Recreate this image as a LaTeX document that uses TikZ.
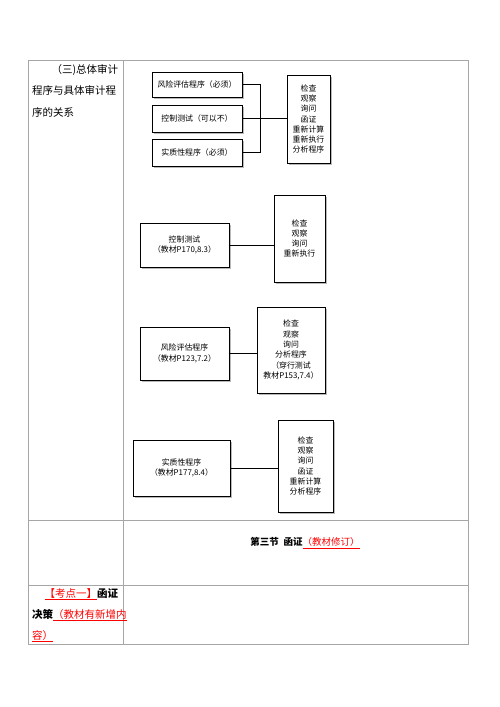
\documentclass[tikz,border=0pt]{standalone}
\usepackage{fontspec}
\setmainfont{Liberation Serif}
\newfontfamily\cjk{Noto Sans CJK SC}
\usepackage{xcolor}
\usetikzlibrary{shadows}

\newcommand{\redline}[1]{{\color{red}\underline{#1}}}

\begin{document}
\begin{tikzpicture}[x=1pt,y=-1pt,
rule/.style={draw=gray!70,line width=0.9pt},
box/.style={rectangle,draw,line width=0.9pt,fill=white,align=center,inner sep=0pt,
  drop shadow={shadow xshift=1.6pt,shadow yshift=-1.6pt,fill=gray!55,opacity=1},
  font=\cjk\fontsize{7.9}{10.3}\selectfont},
link/.style={line width=0.8pt},
celltext/.style={anchor=north west,inner sep=0pt,text width=86pt,align=left,
  font=\cjk\fontsize{10.5}{21.5}\selectfont}]
\useasboundingbox (0,0) rectangle (500,707);
% table
\draw[rule] (28,60) rectangle (468,644);
\draw[rule] (123,60) -- (123,644);
\draw[rule] (28,520) -- (468,520);
\draw[rule] (28,585) -- (468,585);
% left column
\node[celltext](head) at (32,64){\hfill（三)总体审计\\程序与具体审计程\\序的关系};
% group one
\node[box,minimum width=90pt,minimum height=25pt](risk) at (197,84.5){风险评估程序（必须）};
\node[box,minimum width=90pt,minimum height=27pt](ctrl) at (197,118.5){控制测试（可以不）};
\node[box,minimum width=90pt,minimum height=27pt](subst) at (197,152.5){实质性程序（必须）};
\node[box,minimum width=43pt,minimum height=88pt](all) at (308.5,119){检查\\观察\\询问\\函证\\重新计算\\重新执行\\分析程序};
\draw[link](risk.east) -- ++(18,0) |- (subst.east);
\draw[link](ctrl.east) -- (ctrl.east -| all.west);
% group two
\node[box,minimum width=89pt,minimum height=44pt](ctrlb) at (184.5,245){控制测试\\（教材P170,8.3）};
\node[box,minimum width=51pt,minimum height=87pt](ctrlm) at (299.5,238.5){检查\\观察\\询问\\重新执行};
\draw[link](ctrlb.east) -- (ctrlb.east -| ctrlm.west);
% group three
\node[box,minimum width=89pt,minimum height=53pt](riskb) at (184.5,353.5){风险评估程序\\（教材P123,7.2）};
\node[box,minimum width=68pt,minimum height=86pt](riskm) at (291,350){检查\\观察\\询问\\分析程序\\（穿行测试\\教材P153,7.4）};
\draw[link](riskb.east) -- (riskb.east -| riskm.west);
% group four
\node[box,minimum width=97pt,minimum height=56pt](substb) at (181.5,468){实质性程序\\（教材P177,8.4）};
\node[box,minimum width=55pt,minimum height=92pt](substm) at (305.5,466){检查\\观察\\询问\\函证\\重新计算\\分析程序};
\draw[link](substb.east) -- (substb.east -| substm.west);
% section title
\node[font=\cjk\fontsize{9.5}{12}\selectfont](sec) at (305,543){\bfseries 第三节\enspace 函证\redline{\mdseries（教材修订）}};
% point one
\node[celltext,font=\cjk\fontsize{10.5}{21}\selectfont](point) at (32,588){\hfill\redline{【考点一】}\textbf{函证}\\\textbf{决策}\redline{（教材有新增内}\\\redline{容）}};
\end{tikzpicture}
\end{document}
